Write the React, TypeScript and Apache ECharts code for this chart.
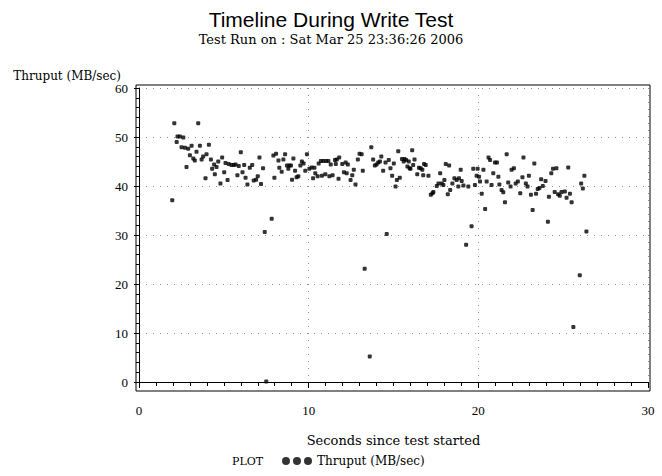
import React, { useEffect, useRef } from "react";
import * as echarts from "echarts";

const seconds: number[] = [
  1.96, 2.08, 2.22, 2.27, 2.41, 2.51, 2.61, 2.71, 2.8, 2.9, 3.0, 3.1, 3.2, 3.29, 3.39, 3.49, 3.59, 3.69, 3.78, 3.92,
  3.98, 4.12, 4.24, 4.31, 4.43, 4.47, 4.57, 4.67, 4.8, 4.9, 5.02, 5.1, 5.22, 5.29, 5.45, 5.59, 5.69, 5.8, 5.88, 6.0,
  6.1, 6.2, 6.28, 6.39, 6.53, 6.67,
  6.76, 6.9, 7.0, 7.1, 7.19, 7.31, 7.41, 7.5, 7.82, 7.92, 7.98, 8.08, 8.22, 8.27, 8.41, 8.51, 8.61, 8.72, 8.8, 8.86,
  8.96, 9.02, 9.1, 9.2, 9.29, 9.39, 9.51, 9.6, 9.7, 9.8, 9.9, 10.04, 10.18, 10.26, 10.34, 10.39, 10.53, 10.59, 10.72,
  10.78, 10.86, 10.98, 11.02, 11.16, 11.22, 11.3, 11.41, 11.55, 11.6, 11.66, 11.76, 11.8,
  11.98, 12.08, 12.18, 12.24, 12.31, 12.47, 12.57, 12.66, 12.76, 12.9, 13.0, 13.12, 13.19, 13.3, 13.6, 13.69, 13.8,
  13.9, 14.0, 14.1, 14.2, 14.28, 14.39, 14.53, 14.6, 14.72, 14.82, 14.92, 15.02, 15.12, 15.2, 15.28, 15.37, 15.5,
  15.6, 15.65, 15.75, 15.82, 15.9, 15.95, 16.0, 16.1, 16.16, 16.24, 16.4, 16.5, 16.6, 16.7, 16.75, 16.8, 16.9,
  17.06, 17.2, 17.3, 17.35, 17.55, 17.65, 17.75, 17.84, 17.94, 18.0, 18.08, 18.2, 18.28, 18.34, 18.47, 18.59, 18.72,
  18.82, 18.86, 18.96, 19.02, 19.12, 19.28, 19.41, 19.6, 19.7, 19.8, 19.9, 19.96, 20.04, 20.1, 20.2, 20.3, 20.4,
  20.49, 20.6, 20.69, 20.78, 20.88, 20.98, 21.1, 21.18, 21.24, 21.37, 21.47, 21.57, 21.67, 21.76, 21.9, 21.96, 22.1,
  22.2,
  22.33, 22.47, 22.6, 22.66, 22.8, 22.9, 22.98, 23.1, 23.2, 23.3, 23.4, 23.5, 23.6, 23.7, 23.8, 23.96, 24.1, 24.16,
  24.3, 24.4, 24.5, 24.6, 24.7, 24.8, 24.9, 25.1, 25.2, 25.3, 25.4, 25.5, 25.6, 25.98, 26.06, 26.16, 26.25, 26.37,
];

const thruput: number[] = [
  37.1, 52.8, 49.0, 50.1, 50.1, 47.9, 49.9, 47.8, 43.9, 47.6, 46.3, 48.2, 45.6, 45.2, 47.0, 52.8, 48.2, 45.4, 46.0, 41.6,
  46.5, 48.4, 45.4, 43.5, 44.4, 42.4, 43.9, 45.0, 40.5, 45.8, 42.8, 44.7, 41.2, 44.5, 44.3, 44.3, 44.4, 42.2, 44.1, 46.9,
  42.8, 44.3, 41.7, 40.3, 43.7, 44.3,
  41.1, 41.3, 42.0, 45.8, 40.4, 43.6, 30.6, 0.1, 33.3, 46.2, 41.7, 46.6, 45.2, 43.7, 42.9, 45.4, 46.5, 44.2, 43.5, 44.2,
  44.2, 41.3, 45.6, 43.1, 41.8, 42.0, 44.2, 45.0, 44.6, 43.1, 46.5, 43.5, 43.8, 41.6, 43.7, 42.6, 42.0, 44.6, 45.1,
  42.1, 45.1, 42.4, 45.1, 45.1, 42.0, 44.4, 42.2, 45.3, 44.5, 45.4, 41.5, 45.8,
  44.5, 42.8, 44.8, 42.6, 44.4, 41.2, 42.2, 43.3, 40.3, 45.4, 46.6, 46.5, 43.1, 23.1, 5.2, 47.9, 45.4,
  44.2, 44.4, 44.8, 45.0, 46.0, 43.1, 44.8, 30.2, 45.3, 43.6, 42.1, 44.6, 39.9, 41.2, 47.1, 41.7, 45.5,
  45.0, 45.5, 45.3, 44.0, 45.0, 43.6, 43.5, 47.3, 44.3, 45.4, 42.4, 43.7, 43.6, 43.3, 42.2, 44.5, 44.3,
  42.1, 38.2, 38.5, 38.8, 40.0, 40.5, 42.6, 40.5, 40.2, 41.2, 44.5, 38.3, 44.2, 39.2, 40.5, 41.6, 41.2,
  39.9, 41.6, 43.3, 41.0, 40.1, 28.0, 39.9, 31.8, 43.5, 40.2, 42.1, 43.5, 41.9, 40.9, 38.4, 43.3, 35.3,
  40.9, 45.8, 45.3, 40.2, 42.6, 44.8, 44.8, 41.9, 40.3, 39.2, 38.7, 36.7, 46.5, 40.7, 39.9, 43.3, 43.6,
  40.5,
  40.9, 38.5, 41.8, 45.8, 40.5, 39.9, 42.1, 38.2, 35.1, 44.6, 38.4, 39.4, 39.6, 41.4, 40.0, 41.0, 32.7, 37.8,
  42.6, 43.5, 38.8, 43.6, 38.3, 38.0, 38.8, 38.9, 37.6, 43.8, 38.4, 36.7, 11.2, 21.8, 40.5, 39.5, 42.1, 30.7,
];

const xTicks = { min: 0, max: 30, interval: 10 };
const yTicks = { min: 0, max: 60, interval: 10 };

const titleText = "Timeline During Write Test";
const subtitleText = "Test Run on : Sat Mar 25 23:36:26 2006";
const xName = "Seconds since test started";
const yName = "Thruput (MB/sec)";
const seriesName = "Thruput (MB/sec)";

const SERIF = "'Liberation Serif', 'DejaVu Serif', serif";
const SERIF_WIDE = "'DejaVu Serif', 'Liberation Serif', serif";

const dotsIcon =
  "path://M0,4a4,4 0 1,0 8,0a4,4 0 1,0 -8,0Z M11,4a4,4 0 1,0 8,0a4,4 0 1,0 -8,0Z M22,4a4,4 0 1,0 8,0a4,4 0 1,0 -8,0Z";

export default function App() {
  const ref = useRef<HTMLDivElement>(null);
  useEffect(() => {
    if (!ref.current) return;
    const chart = echarts.init(ref.current, undefined, { renderer: "svg" });
    const data = seconds.map((s, i) => [s, thruput[i]]);
    const gridLine = { show: true, lineStyle: { color: "#8c8c8c", type: [1, 6] as any, width: 1 } };
    chart.setOption({
      animation: false,
      backgroundColor: "#ffffff",
      title: [
        {
          text: titleText,
          subtext: subtitleText,
          left: "center",
          top: 4,
          itemGap: 3,
          textStyle: { fontFamily: "'Liberation Sans', Arial, sans-serif", fontSize: 21, fontWeight: "normal", color: "#000" },
          subtextStyle: { fontFamily: SERIF_WIDE, fontSize: 13, color: "#000" },
        },
        {
          text: "PLOT",
          left: 232,
          top: 456,
          padding: 0,
          textStyle: { fontFamily: SERIF_WIDE, fontSize: 11, fontWeight: "normal", color: "#000" },
        },
      ],
      legend: {
        data: [seriesName],
        left: 282,
        top: 455,
        padding: 0,
        icon: dotsIcon,
        itemWidth: 30,
        itemHeight: 8,
        itemGap: 6,
        textStyle: { fontFamily: SERIF_WIDE, fontSize: 12, color: "#000" },
      },
      grid: [
        { left: 139, right: 14, top: 88, bottom: 94, containLabel: false },
        { left: 136, right: 12, top: 85, bottom: 85, show: true, borderColor: "#000", borderWidth: 1, backgroundColor: "transparent" },
      ],
      xAxis: [
        {
          type: "value",
          gridIndex: 0,
          position: "bottom",
          offset: 9,
          min: xTicks.min,
          max: xTicks.max,
          interval: xTicks.interval,
          axisLine: { show: true, lineStyle: { color: "#000", width: 1 } },
          axisTick: { show: true, length: 6, lineStyle: { color: "#000" } },
          minorTick: { show: true, splitNumber: 10, length: 4, lineStyle: { color: "#000" } },
          axisLabel: { show: true, margin: 13, color: "#000", fontFamily: SERIF, fontSize: 13 },
          splitLine: gridLine,
          name: xName,
          nameLocation: "middle",
          nameGap: 43,
          nameTextStyle: { fontFamily: SERIF_WIDE, fontSize: 13, color: "#000" },
        },
        { type: "value", gridIndex: 1, show: false, min: 0, max: 1 },
      ],
      yAxis: [
        {
          type: "value",
          gridIndex: 0,
          position: "left",
          offset: 3,
          min: yTicks.min,
          max: yTicks.max,
          interval: yTicks.interval,
          axisLine: { show: true, lineStyle: { color: "#000", width: 1 } },
          axisTick: { show: true, length: 5, lineStyle: { color: "#000" } },
          minorTick: { show: true, splitNumber: 5, length: 3, lineStyle: { color: "#000" } },
          axisLabel: { show: true, margin: 8, color: "#000", fontFamily: SERIF, fontSize: 13 },
          splitLine: gridLine,
          name: yName,
          nameLocation: "end",
          nameGap: 4,
          nameTextStyle: {
            fontFamily: SERIF_WIDE,
            fontSize: 12,
            color: "#000",
            align: "right",
            verticalAlign: "bottom",
            padding: [0, 18, 0, 0],
          },
        },
        { type: "value", gridIndex: 1, show: false, min: 0, max: 1 },
      ],
      series: [
        {
          name: seriesName,
          type: "scatter",
          xAxisIndex: 0,
          yAxisIndex: 0,
          data,
          symbol: "roundRect",
          symbolSize: 4,
          itemStyle: { color: "#000" },
          emphasis: { disabled: true },
        },
      ],
    });
    return () => chart.dispose();
  }, []);
  return <div ref={ref} style={{ position: "fixed", left: 0, top: 0, width: 662, height: 476 }} />;
}
